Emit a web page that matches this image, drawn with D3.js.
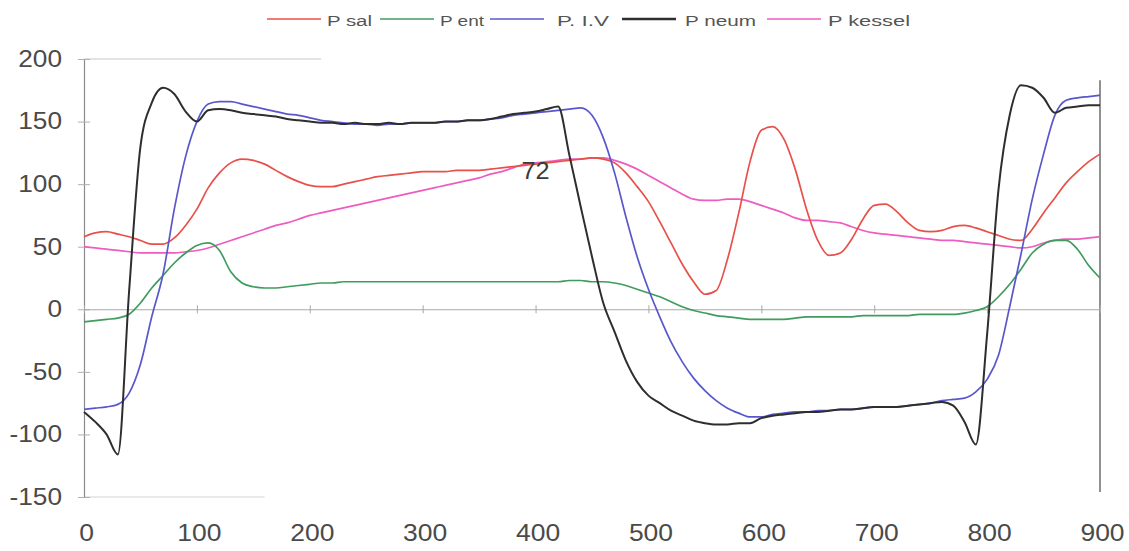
<!DOCTYPE html>
<html>
<head>
<meta charset="utf-8">
<script src="https://cdn.jsdelivr.net/npm/d3@7"></script>
<style>
  html, body { margin: 0; padding: 0; background: #fff; }
  svg { display: block; }
</style>
</head>
<body>
<svg id="chart" width="1129" height="551"></svg>
<script>
// ---- data ----
const xValues = d3.range(0, 901, 10); // 0..900 step 10 (time axis)
const seriesNames = ["P sal", "P ent", "P. I.V", "P neum", "P kessel"];
const seriesColors = ["#e8504a", "#3f9c5e", "#5858cc", "#2e2e2e", "#ee5cc0"];
const xTicks = [0, 100, 200, 300, 400, 500, 600, 700, 800, 900];
const yTicks = [-150, -100, -50, 0, 50, 100, 150, 200];
const annotation = { x: 400, y: 104, text: "72" };

const pSal = [58,61,62,60,58,55,52,52,57,67,80,97,109,117,120,119,116,111,106,102,
  99,98,98,100,102,104,106,107,108,109,110,110,110,111,111,111,112,113,114,115,
  116,117,118,119,120,121,120,117,109,98,86,70,53,36,22,12,15,40,77,118,
  143,146,136,112,80,55,43,45,56,72,83,84,78,69,63,62,63,66,67,65,
  62,59,56,55,64,77,89,101,110,118,124];

const pEnt = [-10,-9,-8,-7,-4,5,17,27,37,45,51,53,47,30,21,18,17,17,18,19,
  20,21,21,22,22,22,22,22,22,22,22,22,22,22,22,22,22,22,22,22,
  22,22,22,23,23,22,22,21,19,16,13,10,6,2,-1,-3,-5,-6,-7,-8,
  -8,-8,-8,-7,-6,-6,-6,-6,-6,-5,-5,-5,-5,-5,-4,-4,-4,-4,-3,-1,
  2,10,20,32,45,52,55,55,48,35,25];

const pIV = [-80,-79,-78,-76,-67,-44,-6,28,80,122,150,164,166,166,164,162,160,158,156,155,
  153,151,150,149,148,148,147,148,148,149,149,149,150,150,151,151,152,153,155,156,
  157,158,159,160,161,155,137,109,74,42,16,-6,-26,-42,-55,-65,-73,-79,-83,-86,
  -86,-84,-83,-82,-82,-81,-81,-80,-80,-79,-78,-78,-78,-77,-76,-75,-73,-72,-71,-66,
  -56,-37,2,44,88,124,155,167,169,170,171];

const pNeum = [-82,-90,-100,-116,15,130,165,177,172,158,150,159,160,159,157,156,155,154,152,151,
  150,149,149,148,149,148,148,149,148,149,149,149,150,150,151,151,152,154,156,157,
  158,160,162,123,82,42,5,-18,-41,-58,-69,-75,-81,-85,-89,-91,-92,-92,-91,-91,
  -87,-85,-84,-83,-82,-82,-81,-80,-80,-79,-78,-78,-78,-77,-76,-75,-74,-77,-90,-108,
  -20,95,155,179,177,169,157,161,162,163,163];

const pKessel = [50,49,48,47,46,45,45,45,45,46,47,49,52,55,58,61,64,67,69,72,
  75,77,79,81,83,85,87,89,91,93,95,97,99,101,103,105,108,110,113,116,
  117,118,119,120,120,121,121,119,116,112,107,102,97,92,88,87,87,88,88,86,
  83,80,77,73,71,71,70,69,66,63,61,60,59,58,57,56,55,55,54,53,
  52,51,50,49,50,53,55,56,56,57,58];

const seriesValues = [pSal, pEnt, pIV, pNeum, pKessel];

// ---- layout ----
const svg = d3.select("#chart");
const x = d3.scaleLinear().domain([0, 900]).range([84, 1100]);
const y = d3.scaleLinear().domain([-150, 200]).range([497, 59]);

const fontAxis = "'Liberation Sans', Arial, sans-serif";

// faint frame remnants
svg.append("line")
  .attr("x1", x(0)).attr("x2", x(210)).attr("y1", y(200)).attr("y2", y(200))
  .attr("stroke", "#c8c8c8").attr("stroke-width", 1.2);
svg.append("line")
  .attr("x1", x(0)).attr("x2", x(160)).attr("y1", y(-150)).attr("y2", y(-150))
  .attr("stroke", "#d4d4d4").attr("stroke-width", 1.2);
// right border
svg.append("line")
  .attr("x1", x(900)).attr("x2", x(900)).attr("y1", y(183)).attr("y2", y(-146))
  .attr("stroke", "#555").attr("stroke-width", 1.3);

// y axis (left)
const yAxis = d3.axisLeft(y).tickValues(yTicks).tickFormat(d => String(d))
  .tickSizeInner(6).tickSizeOuter(0).tickPadding(15);
const gy = svg.append("g").attr("transform", `translate(${x(0)},0)`).call(yAxis);
gy.select(".domain").attr("stroke", "#8a8a8a").attr("stroke-width", 1.2);
gy.selectAll(".tick line").attr("stroke", "#b0b0b0").attr("x2", -6).attr("x1", 6);
gy.selectAll(".tick text")
  .attr("fill", "#4a4a4a")
  .style("font-family", fontAxis)
  .style("font-size", "23px")
  .each(function() {
    const t = d3.select(this);
    const tx = +t.attr("x");
    t.attr("x", 0).attr("transform", `translate(${tx - 1},0) scale(1.14,1)`);
  });

// zero line with ticks
const xAxisZero = d3.axisBottom(x).tickValues(xTicks).tickSizeInner(4).tickSizeOuter(0).tickFormat("");
const gz = svg.append("g").attr("transform", `translate(0,${y(0)})`).call(xAxisZero);
gz.select(".domain").attr("stroke", "#a8a8a8").attr("stroke-width", 1.1);
gz.selectAll(".tick line").attr("stroke", "#a8a8a8").attr("y1", -4).attr("y2", 4);

// bottom labels
const xAxisLabels = d3.axisBottom(x).tickValues(xTicks).tickSize(0).tickPadding(28);
const gx = svg.append("g").attr("transform", `translate(0,${y(-150)})`).call(xAxisLabels);
gx.select(".domain").remove();
gx.selectAll(".tick text")
  .attr("fill", "#4a4a4a")
  .style("font-family", fontAxis)
  .style("font-size", "23px")
  .each(function() {
    const t = d3.select(this);
    const ty = +t.attr("y");
    t.attr("y", 0).attr("transform", `translate(2,${ty}) scale(1.15,1)`);
  });

// series lines
const line = d3.line()
  .x((d, i) => x(xValues[i]))
  .y(d => y(d))
  .curve(d3.curveMonotoneX);

const drawOrder = [4, 0, 1, 2, 3];
drawOrder.forEach(k => {
  svg.append("path")
    .datum(seriesValues[k])
    .attr("fill", "none")
    .attr("stroke", seriesColors[k])
    .attr("stroke-width", k === 3 ? 2 : 1.7)
    .attr("stroke-linejoin", "round")
    .attr("d", line);
});

// annotation "72"
svg.append("text")
  .attr("transform", `translate(${x(annotation.x)},${y(annotation.y)}) scale(1.1,1)`)
  .attr("text-anchor", "middle")
  .attr("fill", "#3a3a3a")
  .style("font-family", fontAxis)
  .style("font-size", "23px")
  .text(annotation.text);

// legend (item positions in pixels)
const legendLineX = [267, 380, 490, 622, 767];
const legendTextX = [327, 440, 557, 685, 828];
const legendTextW = [45, 44, 52, 71, 82];
const legend = svg.append("g").attr("transform", "translate(0,19)");
seriesNames.forEach((name, k) => {
  legend.append("line")
    .attr("x1", legendLineX[k]).attr("x2", legendLineX[k] + 54)
    .attr("y1", 0).attr("y2", 0)
    .attr("stroke", seriesColors[k])
    .attr("stroke-width", k === 3 ? 2.6 : 1.6);
  legend.append("text")
    .attr("x", legendTextX[k]).attr("y", 7)
    .attr("textLength", legendTextW[k])
    .attr("lengthAdjust", "spacingAndGlyphs")
    .attr("fill", "#555")
    .style("font-family", fontAxis)
    .style("font-size", "15.5px")
    .text(name);
});
</script>
</body>
</html>
